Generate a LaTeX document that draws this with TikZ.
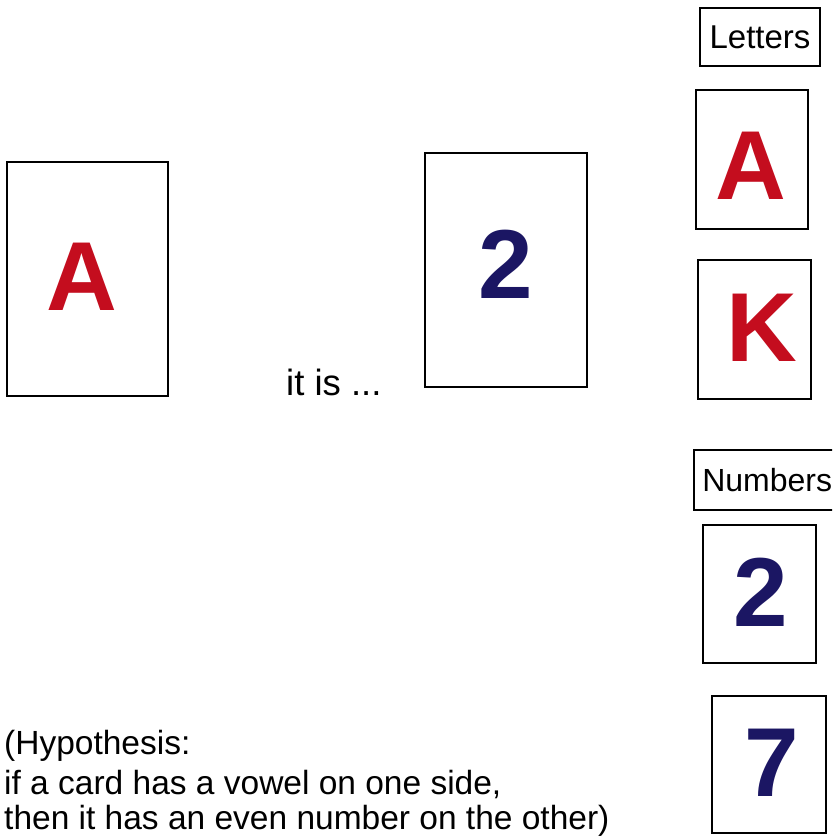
\documentclass[tikz,border=0pt]{standalone}
\usepackage{fontspec}
\setmainfont{Liberation Sans}
\definecolor{cardred}{HTML}{C40D1E}
\definecolor{cardblue}{HTML}{1B1663}
\tikzset{
  cardbox/.style={draw=black, line width=2.6pt, inner sep=0pt, fill=white},
  labelbox/.style={draw=black, line width=2.4pt, inner xsep=7pt, font=\fontsize{33}{38}\selectfont},
  bigred/.style={text=cardred, inner sep=0pt, font=\fontsize{98}{98}\selectfont\bfseries},
  bigblue/.style={text=cardblue, inner sep=0pt, font=\fontsize{98}{98}\selectfont\bfseries},
  plaintext/.style={inner sep=0pt, font=\fontsize{33.5}{42}\selectfont}
}
\begin{document}
\begin{tikzpicture}[x=1pt,y=-1pt]
\useasboundingbox (0,0) rectangle (832,837);
\clip (0,0) rectangle (832,837);
% left card
\node[cardbox, minimum width=161pt, minimum height=234pt] (c1) at (87.5,279) {};
\node[bigred] (gA1) at (82,277) {A};
% middle card
\node[cardbox, minimum width=162pt, minimum height=234pt] (c2) at (506,270) {};
\node[bigblue] (g2m) at (506,264) {2};
\node[plaintext, anchor=base west, font=\fontsize{36.5}{42}\selectfont] (itis) at (286,395) {it is ...};
% letters
\node[labelbox, minimum width=120pt, minimum height=58pt, inner xsep=0pt] (letters) at (760,37) {Letters};
\node[cardbox, minimum width=112pt, minimum height=139pt] (cA) at (752,159.5) {};
\node[bigred] (gAr) at (751,166) {A};
\node[cardbox, minimum width=113pt, minimum height=139pt] (cK) at (754.5,329.5) {};
\node[bigred] (gK) at (762,328) {K};
% numbers
\node[labelbox, anchor=west, minimum height=60pt, minimum width=146pt, inner xsep=0pt, font=\fontsize{32}{38}\selectfont] (numbers) at (693,480) {Numbers};
\node[cardbox, minimum width=113pt, minimum height=138pt] (c2r) at (759.5,594) {};
\node[bigblue] (g2r) at (761,592) {2};
\node[cardbox, minimum width=114pt, minimum height=137pt] (c7) at (769,764.5) {};
\node[bigblue] (g7) at (772,763) {7};
% hypothesis
\node[plaintext, anchor=base west] (h1) at (4,754) {(Hypothesis:};
\node[plaintext, anchor=base west] (h2) at (4,794) {if a card has a vowel on one side,};
\node[plaintext, anchor=base west] (h3) at (4,829) {then it has an even number on the other)};
\end{tikzpicture}
\end{document}
